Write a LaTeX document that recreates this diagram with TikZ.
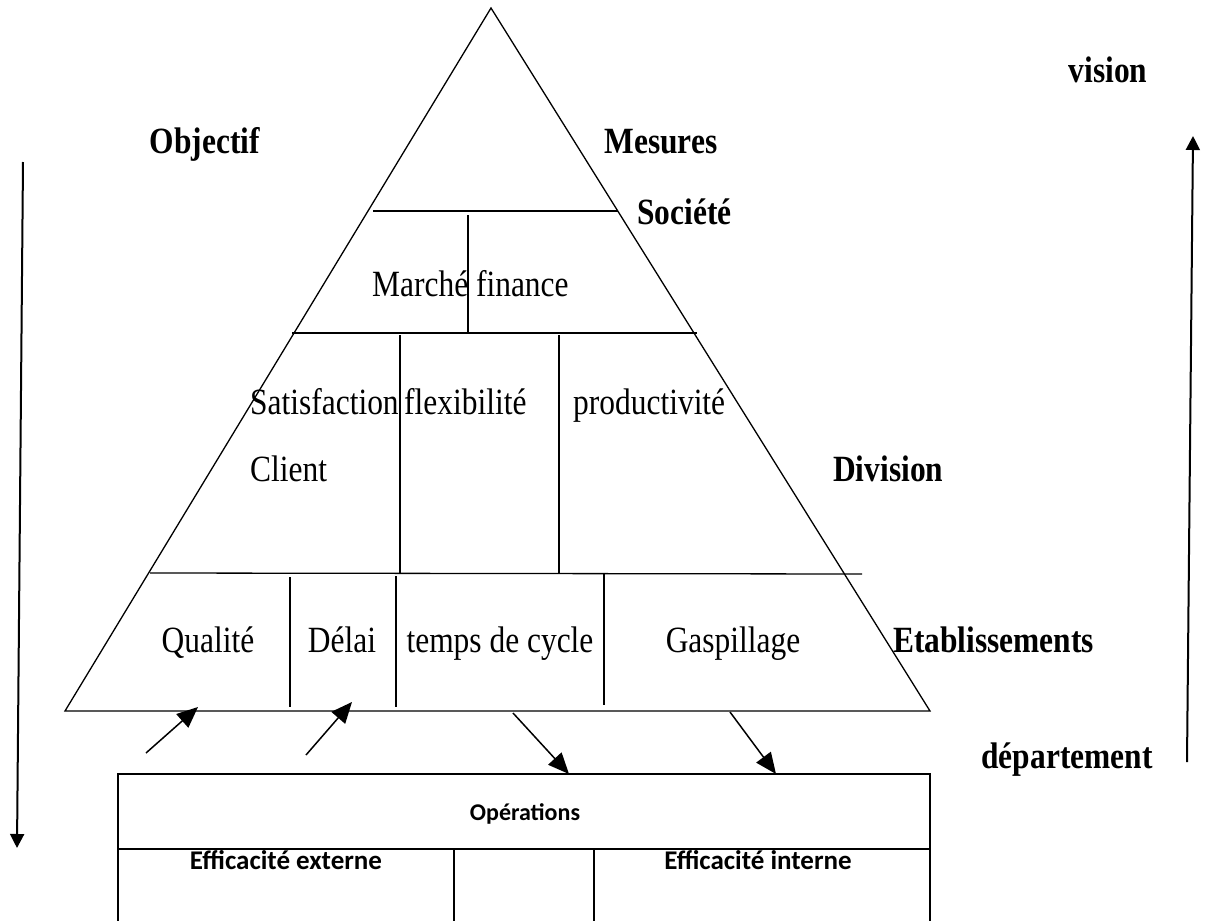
\documentclass[tikz,border=0pt]{standalone}
\usepackage{fontspec}
\setmainfont{Liberation Serif}[FakeStretch=0.85]
\newfontfamily\boxfont{Carlito}
\usetikzlibrary{arrows.meta}
\begin{document}
\begin{tikzpicture}[x=1bp,y=-1bp,
  line/.style={line width=1.3bp},
  lbl/.style={inner sep=0pt, anchor=base, font=\fontsize{37bp}{42bp}\selectfont},
  blbl/.style={inner sep=0pt, anchor=base, font=\fontsize{37bp}{42bp}\selectfont\bfseries},
  slbl/.style={inner sep=0pt, anchor=base, font=\boxfont\fontsize{24bp}{28bp}\selectfont\bfseries},
  arr/.style={line width=1.5bp, -{Triangle[length=21bp,width=18bp]}},
  longarr/.style={line width=2bp, -{Triangle[length=14bp,width=14bp]}}]
\useasboundingbox (0,0) rectangle (1205,921);
% pyramid
\coordinate (apex) at (491,8);
\coordinate (bl) at (65,711);
\coordinate (br) at (930,711);
\draw[line] (bl) -- (apex) -- (br) -- cycle;
\coordinate (h1l) at (373,211); \coordinate (h1r) at (618,211);
\coordinate (h2l) at (292,333); \coordinate (h2r) at (697,333);
\coordinate (h3l) at (150,573); \coordinate (h3r) at (862,574);
\draw[line] (h1l) -- (h1r);
\draw[line] (h2l) -- (h2r);
\draw[line] (h3l) -- (h3r);
\coordinate (v1t) at (468,215); \coordinate (v1b) at (468,333);
\coordinate (v2t) at (400,335); \coordinate (v2b) at (400,573);
\coordinate (v3t) at (559,335); \coordinate (v3b) at (559,573);
\coordinate (v4t) at (290,577); \coordinate (v4b) at (290,707);
\coordinate (v5t) at (396,576); \coordinate (v5b) at (396,707);
\coordinate (v6t) at (604,574); \coordinate (v6b) at (604,705);
\foreach \v in {1,...,6} \draw[line] (v\v t) -- (v\v b);
% lower box
\coordinate (bxtl) at (118,774);
\coordinate (bxbr) at (930,930);
\draw[line] (bxtl) rectangle (bxbr);
\coordinate (ml) at (118,849); \coordinate (mr) at (930,849);
\draw[line] (ml) -- (mr);
\coordinate (d1t) at (454,849); \coordinate (d1b) at (454,930);
\coordinate (d2t) at (594,849); \coordinate (d2b) at (594,930);
\draw[line] (d1t) -- (d1b);
\draw[line] (d2t) -- (d2b);
% small arrows
\coordinate (a1s) at (146,753); \coordinate (a1e) at (198,707);
\coordinate (a2s) at (306,755); \coordinate (a2e) at (352,702);
\coordinate (a3s) at (513,713); \coordinate (a3e) at (569,774);
\coordinate (a4s) at (730,712); \coordinate (a4e) at (776,774);
\draw[arr] (a1s) -- (a1e);
\draw[arr] (a2s) -- (a2e);
\draw[arr] (a3s) -- (a3e);
\draw[arr] (a4s) -- (a4e);
% long arrows
\coordinate (Ls) at (23,162); \coordinate (Le) at (17,848);
\coordinate (Rs) at (1187,762); \coordinate (Re) at (1193,136);
\draw[longarr] (Ls) -- (Le);
\draw[longarr] (Rs) -- (Re);
% labels
\node[blbl] (vision) at (1108,82) {vision};
\node[blbl] (objectif) at (205,153) {Objectif};
\node[blbl] (mesures) at (661,153) {Mesures};
\node[blbl, anchor=base west] (societe) at (637,224) {Société};
\node[lbl, anchor=base west] (marche) at (372,296) {Marché finance};
\node[lbl, anchor=base west] (satis) at (250,414) {Satisfaction};
\node[lbl, anchor=base west] (flex) at (404,414) {flexibilité};
\node[lbl, anchor=base west] (prod) at (573,414) {productivité};
\node[lbl, anchor=base west] (client) at (250,481) {Client};
\node[blbl, anchor=base west] (division) at (833,481) {Division};
\node[lbl] (qualite) at (208,652) {Qualité};
\node[lbl] (delai) at (342,652) {Délai};
\node[lbl] (temps) at (500,652) {temps de cycle};
\node[lbl] (gasp) at (733,652) {Gaspillage};
\node[blbl, anchor=base west] (etab) at (893,652) {Etablissements};
\node[blbl] (dept) at (1067,768) {département};
\node[slbl] (oper) at (525,820) {Opérations};
\node[slbl, font=\boxfont\fontsize{27bp}{30bp}\selectfont\bfseries] (effext) at (286,869) {Efficacité externe};
\node[slbl, font=\boxfont\fontsize{27bp}{30bp}\selectfont\bfseries] (effint) at (758,869) {Efficacité interne};
\end{tikzpicture}
\end{document}
